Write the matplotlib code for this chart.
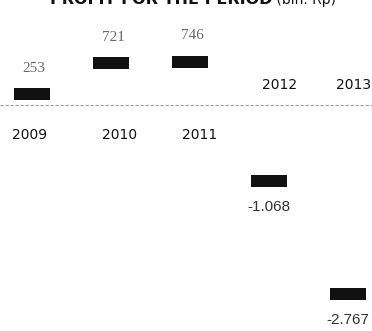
import matplotlib
matplotlib.use("Agg")
import matplotlib.pyplot as plt

years = ["2009", "2010", "2011", "2012", "2013"]
profit = [253, 721, 746, -1068, -2767]
title_main = "PROFIT FOR THE PERIOD"
title_unit = " (bln. Rp)"

# style: horizontal pixel nudges for year labels
year_dx = [-2, 8, 9, 10, 5]

fig = plt.figure(figsize=(3.72, 3.31), dpi=100)
ax = fig.add_axes([0, 0, 1, 1])
ax.set_xlim(-0.405, 4.30)
ax.set_ylim(-3424, 1591)
ax.axis("off")

cap = 180  # height of the marker block in data units
xs = list(range(len(years)))
ax.bar(xs, [cap] * len(xs), bottom=[v - cap for v in profit], width=0.46,
       color="#111111", edgecolor="none", zorder=3)

ax.axhline(0, color="#a0a0a0", lw=0.8, ls=(0, (3, 1.5)), zorder=1)

def fmt(v):
    return f"{v:,}".replace(",", ".")

for i, (y, v) in enumerate(zip(years, profit)):
    if v >= 0:
        ax.annotate(fmt(v), (i, v), xytext=(2, 20), textcoords="offset pixels",
                    ha="center", va="center", fontsize=11, family="Liberation Serif",
                    color="#6a6a6a")
        ax.annotate(y, (i, 0), xytext=(year_dx[i], -30), textcoords="offset pixels",
                    ha="center", va="center", fontsize=10, color="#111111")
    else:
        ax.annotate(fmt(v), (i, v), xytext=(0, -32), textcoords="offset pixels",
                    ha="center", va="center", fontsize=11, family="Liberation Sans",
                    color="#333333")
        ax.annotate(y, (i, 0), xytext=(year_dx[i], 20), textcoords="offset pixels",
                    ha="center", va="center", fontsize=10, color="#111111")

t1 = fig.text(50 / 372, 1 - 4 / 331, title_main, ha="left", va="baseline",
              fontsize=11.5, fontweight="bold", color="#111111")
fig.canvas.draw()
bb = t1.get_window_extent()
fig.text(bb.x1 / fig.bbox.width, 1 - 4 / 331, title_unit, ha="left", va="baseline",
         fontsize=10, color="#111111")

fig.savefig("out.png", dpi=100)
